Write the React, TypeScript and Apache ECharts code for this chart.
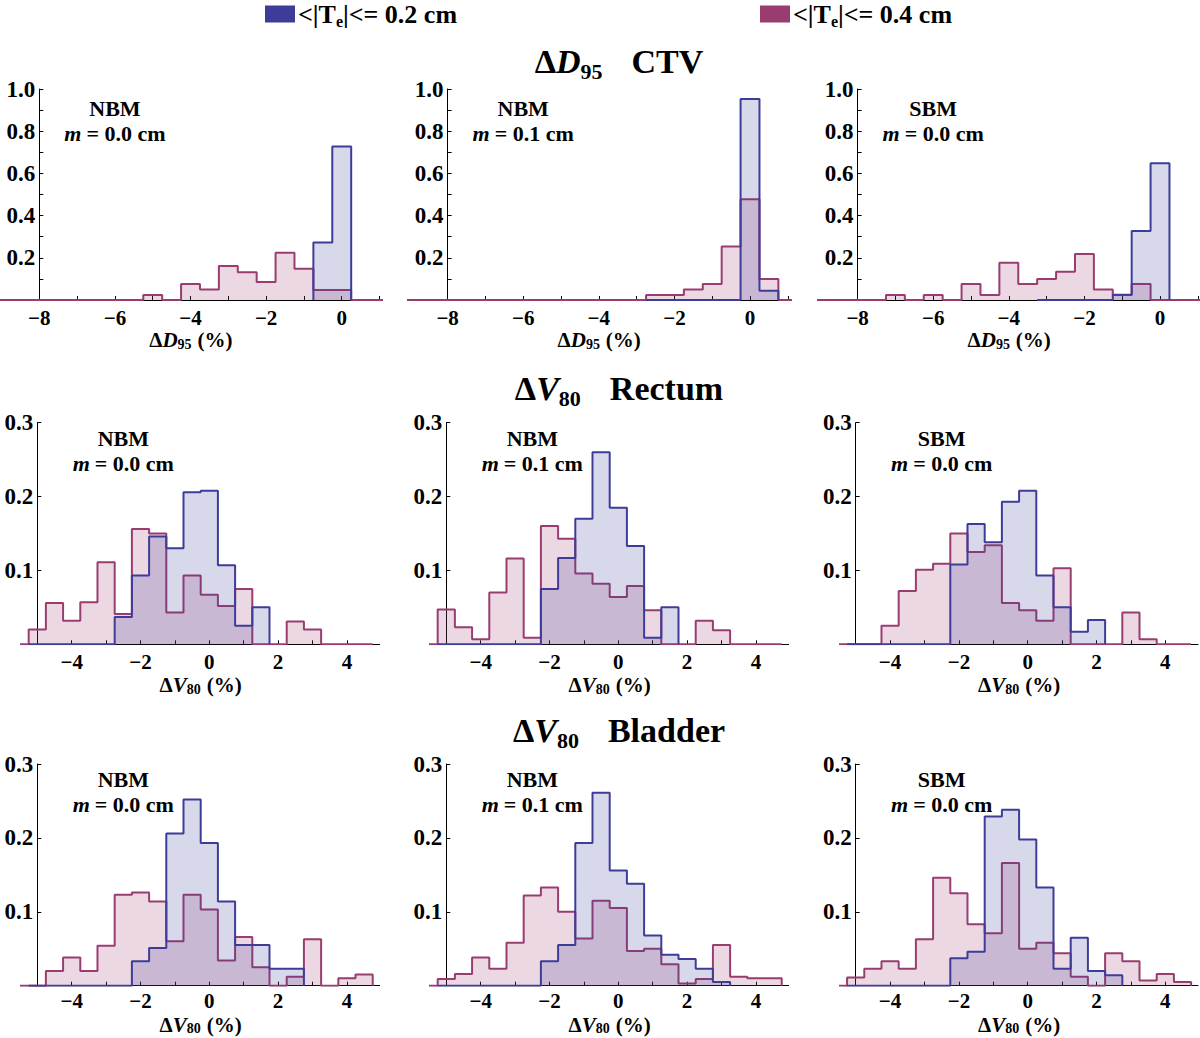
import React, { useEffect, useRef } from "react";
import * as echarts from "echarts";

// ---------- colours & fonts ----------
const BLUE = "#3D3D99";
const RED = "#993D71";
const SERIF = "Liberation Serif";
const BIN = 0.5;

const LEGEND_BLUE = "<|Te|<= 0.2 cm";
const LEGEND_RED = "<|Te|<= 0.4 cm";

// ---------- tick values ----------
const ctvXLabels = [-8, -6, -4, -2, 0];
const ctvXTicks = [-8, -7, -6, -5, -4, -3, -2, -1, 0, 1];
const ctvYLabels = [0.2, 0.4, 0.6, 0.8, 1.0];
const ctvYTicks = [0.1, 0.2, 0.3, 0.4, 0.5, 0.6, 0.7, 0.8, 0.9, 1.0];
const v80XLabels = [-4, -2, 0, 2, 4];
const v80XTicks = [-5, -4, -3, -2, -1, 0, 1, 2, 3, 4];
const v80YLabels = [0.1, 0.2, 0.3];
const v80YTicks = [0.1, 0.2, 0.3];

// ---------- histogram data (probability per 0.5-wide bin; first value starts at *From) ----------
// ΔD95 CTV
const ctvNbm00BlueFrom = -0.75;
const ctvNbm00Blue = [0.273, 0.727];
const ctvNbm00RedFrom = -9.25;
const ctvNbm00Red = [0, 0, 0, 0, 0, 0, 0, 0, 0.024, 0, 0.076, 0.05, 0.161, 0.131, 0.085, 0.224, 0.148, 0.047, 0.047, 0, 0];

const ctvNbm01BlueFrom = -2.75;
const ctvNbm01Blue = [0, 0, 0, 0, 0, 0.953, 0.044];
const ctvNbm01RedFrom = -9.25;
const ctvNbm01Red = [0, 0, 0, 0, 0, 0, 0, 0, 0, 0, 0, 0, 0, 0.024, 0.024, 0.05, 0.076, 0.253, 0.477, 0.1, 0];

const ctvSbm00BlueFrom = -3.25;
const ctvSbm00Blue = [0, 0, 0, 0, 0.025, 0.327, 0.648];
const ctvSbm00RedFrom = -9.25;
const ctvSbm00Red = [0, 0, 0, 0, 0.024, 0, 0.024, 0, 0.076, 0.024, 0.177, 0.076, 0.1, 0.134, 0.218, 0.05, 0.024, 0.076, 0, 0, 0];

// ΔV80 Rectum
const recNbm00BlueFrom = -5.25;
const recNbm00Blue = [0, 0, 0, 0, 0, 0.037, 0.093, 0.146, 0.13, 0.206, 0.208, 0.107, 0.025, 0.05];
const recNbm00RedFrom = -5.75;
const recNbm00Red = [0, 0.02, 0.056, 0.032, 0.057, 0.111, 0.041, 0.156, 0.15, 0.043, 0.093, 0.067, 0.052, 0.075, 0, 0, 0.031, 0.02, 0, 0, 0];

const recNbm01BlueFrom = -5.25;
const recNbm01Blue = [0, 0, 0, 0, 0, 0, 0.075, 0.117, 0.17, 0.26, 0.185, 0.133, 0.009, 0.05];
const recNbm01RedFrom = -5.75;
const recNbm01Red = [0, 0.047, 0.023, 0.007, 0.07, 0.116, 0.009, 0.16, 0.143, 0.096, 0.082, 0.064, 0.079, 0.046, 0, 0, 0.032, 0.019, 0, 0, 0];

const recSbm00BlueFrom = -5.25;
const recSbm00Blue = [0, 0, 0, 0, 0, 0, 0.108, 0.163, 0.138, 0.193, 0.208, 0.093, 0.05, 0.017, 0.033];
const recSbm00RedFrom = -5.75;
const recSbm00Red = [0, 0, 0, 0.025, 0.072, 0.101, 0.109, 0.15, 0.125, 0.134, 0.056, 0.046, 0.032, 0.103, 0, 0, 0, 0.043, 0.007, 0, 0];

// ΔV80 Bladder
const bldNbm00BlueFrom = -5.25;
const bldNbm00Blue = [0, 0, 0, 0, 0, 0, 0.033, 0.051, 0.206, 0.252, 0.193, 0.114, 0.055, 0.055, 0.023, 0.023];
const bldNbm00RedFrom = -5.75;
const bldNbm00Red = [0, 0, 0.02, 0.038, 0.02, 0.054, 0.123, 0.126, 0.114, 0.06, 0.123, 0.103, 0.034, 0.066, 0.025, 0, 0.012, 0.063, 0, 0.01, 0.015];

const bldNbm01BlueFrom = -5.25;
const bldNbm01Blue = [0, 0, 0, 0, 0, 0, 0.033, 0.055, 0.193, 0.261, 0.156, 0.138, 0.068, 0.042, 0.036, 0.023, 0.005];
const bldNbm01RedFrom = -5.75;
const bldNbm01Red = [0, 0.009, 0.016, 0.038, 0.023, 0.058, 0.122, 0.133, 0.1, 0.064, 0.115, 0.105, 0.047, 0.05, 0.029, 0.003, 0.009, 0.055, 0.012, 0.01, 0.01];

const bldSbm00BlueFrom = -5.25;
const bldSbm00Blue = [0, 0, 0, 0, 0, 0, 0.037, 0.046, 0.229, 0.238, 0.198, 0.133, 0.023, 0.065, 0.02, 0.014];
const bldSbm00RedFrom = -5.75;
const bldSbm00Red = [0, 0.011, 0.023, 0.033, 0.023, 0.063, 0.146, 0.125, 0.083, 0.071, 0.166, 0.05, 0.058, 0.044, 0.012, 0, 0.044, 0.033, 0.007, 0.016, 0.005];

// ---------- layout tables ----------
const rows = [
  {
    title: { v: "D", sub: "95", organ: "CTV" }, titleY: 61,
    xMin: -9.04, xMax: 1.06, yMax: 1.0, yAxisAt: -8,
    xLabels: ctvXLabels, xTicks: ctvXTicks, yLabels: ctvYLabels, yTicks: ctvYTicks,
    top: 89, height: 211, width: 381.8, lefts: [0, 408.3, 818.3],
    labelMargin: 7, nameGap: 29, anno: [-6, 0.846],
    panels: [
      { method: "NBM", m: "0.0", bF: ctvNbm00BlueFrom, b: ctvNbm00Blue, rF: ctvNbm00RedFrom, r: ctvNbm00Red },
      { method: "NBM", m: "0.1", bF: ctvNbm01BlueFrom, b: ctvNbm01Blue, rF: ctvNbm01RedFrom, r: ctvNbm01Red },
      { method: "SBM", m: "0.0", bF: ctvSbm00BlueFrom, b: ctvSbm00Blue, rF: ctvSbm00RedFrom, r: ctvSbm00Red },
    ],
  },
  {
    title: { v: "V", sub: "80", organ: "Rectum" }, titleY: 388,
    xMin: -5.45, xMax: 4.95, yMax: 0.3, yAxisAt: -5,
    xLabels: v80XLabels, xTicks: v80XTicks, yLabels: v80YLabels, yTicks: v80YTicks,
    top: 422.7, height: 221.6, width: 357.8, lefts: [21.8, 430.8, 840.2],
    labelMargin: 7, nameGap: 30, anno: [-2.5, 0.262],
    panels: [
      { method: "NBM", m: "0.0", bF: recNbm00BlueFrom, b: recNbm00Blue, rF: recNbm00RedFrom, r: recNbm00Red },
      { method: "NBM", m: "0.1", bF: recNbm01BlueFrom, b: recNbm01Blue, rF: recNbm01RedFrom, r: recNbm01Red },
      { method: "SBM", m: "0.0", bF: recSbm00BlueFrom, b: recSbm00Blue, rF: recSbm00RedFrom, r: recSbm00Red },
    ],
  },
  {
    title: { v: "V", sub: "80", organ: "Bladder" }, titleY: 730,
    xMin: -5.45, xMax: 4.95, yMax: 0.3, yAxisAt: -5,
    xLabels: v80XLabels, xTicks: v80XTicks, yLabels: v80YLabels, yTicks: v80YTicks,
    top: 764, height: 221.7, width: 357.8, lefts: [21.8, 430.8, 840.2],
    labelMargin: 5, nameGap: 28, anno: [-2.5, 0.262],
    panels: [
      { method: "NBM", m: "0.0", bF: bldNbm00BlueFrom, b: bldNbm00Blue, rF: bldNbm00RedFrom, r: bldNbm00Red },
      { method: "NBM", m: "0.1", bF: bldNbm01BlueFrom, b: bldNbm01Blue, rF: bldNbm01RedFrom, r: bldNbm01Red },
      { method: "SBM", m: "0.0", bF: bldSbm00BlueFrom, b: bldSbm00Blue, rF: bldSbm00RedFrom, r: bldSbm00Red },
    ],
  },
];

function steps(from: number, heights: number[]): number[][] {
  const pts: number[][] = [[from, 0]];
  heights.forEach((h, i) => pts.push([from + i * BIN, h]));
  pts.push([from + heights.length * BIN, 0]);
  return pts;
}

const fmtX = (v: number) => (v < 0 ? "\u2212" + Math.abs(v) : String(v));

function richSet(size: number, subSize: number, lh: number) {
  const base = { fontFamily: SERIF, fontWeight: "bold" as const, fontSize: size, lineHeight: lh, color: "#000" };
  return {
    b: { ...base },
    i: { ...base, fontStyle: "italic" as const },
    s: { ...base, fontSize: subSize, lineHeight: subSize, verticalAlign: "bottom" as const },
    p: { ...base, padding: [0, 0, 0, 6] },
    q: { ...base, padding: [0, 0, 0, 5] },
    c: { ...base, padding: [0, 0, 0, Math.round(size * 0.85)] },
  };
}

const AXIS_RICH = richSet(21, 14, 22);
const TITLE_RICH = richSet(34, 22, 42);
const ANNO_RICH = richSet(22, 16, 25);
const LEGEND_RICH = richSet(26, 16, 30);

function legendText(name: string) {
  const rest = name.split("Te")[1];
  return "{b|<|T}{s|e}{b|" + rest + "}";
}

export default function App() {
  const ref = useRef<HTMLDivElement>(null);

  useEffect(() => {
    if (!ref.current) return;
    const chart = echarts.init(ref.current, undefined, { renderer: "svg" });

    const grid: any[] = [];
    const xAxis: any[] = [];
    const yAxis: any[] = [];
    const series: any[] = [];
    let k = 0;

    rows.forEach((row) => {
      row.panels.forEach((p, c) => {
        grid.push({ left: row.lefts[c], top: row.top, width: row.width, height: row.height, containLabel: false, outerBoundsMode: "none" });
        xAxis.push({
          type: "value", gridIndex: k, min: row.xMin, max: row.xMax,
          axisLine: { show: true, onZero: false, lineStyle: { color: "#000", width: 1 } },
          axisTick: { show: true, inside: true, length: 4, customValues: row.xTicks, lineStyle: { color: "#000", width: 1 } },
          axisLabel: { customValues: row.xLabels, formatter: fmtX, margin: row.labelMargin, fontFamily: SERIF, fontWeight: "bold", fontSize: 21, color: "#000" },
          splitLine: { show: false },
          name: "{b|\u0394}{i|" + row.title.v + "}{s|" + row.title.sub + "}{p|(%)}",
          nameLocation: "middle", nameGap: row.nameGap, nameMoveOverlap: false,
          nameTextStyle: { rich: AXIS_RICH, fontFamily: SERIF, fontWeight: "bold", fontSize: 21, color: "#000" },
        });
        const off = -((row.yAxisAt - row.xMin) / (row.xMax - row.xMin)) * row.width;
        yAxis.push({
          type: "value", gridIndex: k, min: 0, max: row.yMax, offset: off,
          axisLine: { show: true, onZero: false, lineStyle: { color: "#000", width: 1 } },
          axisTick: { show: true, inside: true, length: 4, customValues: row.yTicks, lineStyle: { color: "#000", width: 1 } },
          axisLabel: { customValues: row.yLabels, formatter: (v: number) => v.toFixed(1), margin: 4, fontFamily: SERIF, fontWeight: "bold", fontSize: 23, color: "#000" },
          splitLine: { show: false },
        });
        series.push({
          type: "line", name: LEGEND_RED, xAxisIndex: k, yAxisIndex: k, data: steps(p.rF, p.r), step: "end",
          symbol: "none", showSymbol: false, silent: true, z: 2,
          lineStyle: { color: RED, width: 2 }, itemStyle: { color: RED },
          areaStyle: { color: RED, opacity: 0.2 },
        });
        series.push({
          type: "line", name: LEGEND_BLUE, xAxisIndex: k, yAxisIndex: k, data: steps(p.bF, p.b), step: "end",
          symbol: "none", showSymbol: false, silent: true, z: 3,
          lineStyle: { color: BLUE, width: 2 }, itemStyle: { color: BLUE },
          areaStyle: { color: BLUE, opacity: 0.2 },
        });
        k++;
      });
    });

    const legendBase = {
      orient: "horizontal", top: -4, itemWidth: 30, itemHeight: 17, icon: "rect", selectedMode: false,
      formatter: legendText,
      textStyle: { rich: LEGEND_RICH, fontFamily: SERIF, fontWeight: "bold", fontSize: 26, color: "#000", padding: [0, 0, 0, -2] },
    };

    chart.setOption({
      animation: false,
      backgroundColor: "#fff",
      textStyle: { fontFamily: SERIF },
      grid, xAxis, yAxis, series,
      legend: [
        { ...legendBase, left: 260, data: [{ name: LEGEND_BLUE, itemStyle: { color: BLUE, borderWidth: 0 } }] },
        { ...legendBase, left: 755, data: [{ name: LEGEND_RED, itemStyle: { color: RED, borderWidth: 0 } }] },
      ],
    });

    const graphic: any[] = [];
    rows.forEach((row, ri) => {
      graphic.push({
        type: "text", x: 619, y: row.titleY, silent: true,
        style: {
          text: "{b|\u0394}{i|" + row.title.v + "}{s|" + row.title.sub + "}{c|" + row.title.organ + "}",
          rich: TITLE_RICH, align: "center", verticalAlign: "middle", fill: "#000",
        },
      });
      row.panels.forEach((p, c) => {
        const pos = chart.convertToPixel({ gridIndex: ri * 3 + c }, row.anno) as number[];
        graphic.push({
          type: "text", x: pos[0], y: pos[1], silent: true,
          style: {
            text: "{b|" + p.method + "}\n{i|m}{q|= " + p.m + " cm}",
            rich: ANNO_RICH, align: "center", verticalAlign: "middle", fill: "#000",
          },
        });
      });
    });
    chart.setOption({ graphic });

    return () => chart.dispose();
  }, []);

  return <div ref={ref} style={{ position: "absolute", left: 0, top: 0, width: 1200, height: 1038, background: "#fff" }} />;
}
